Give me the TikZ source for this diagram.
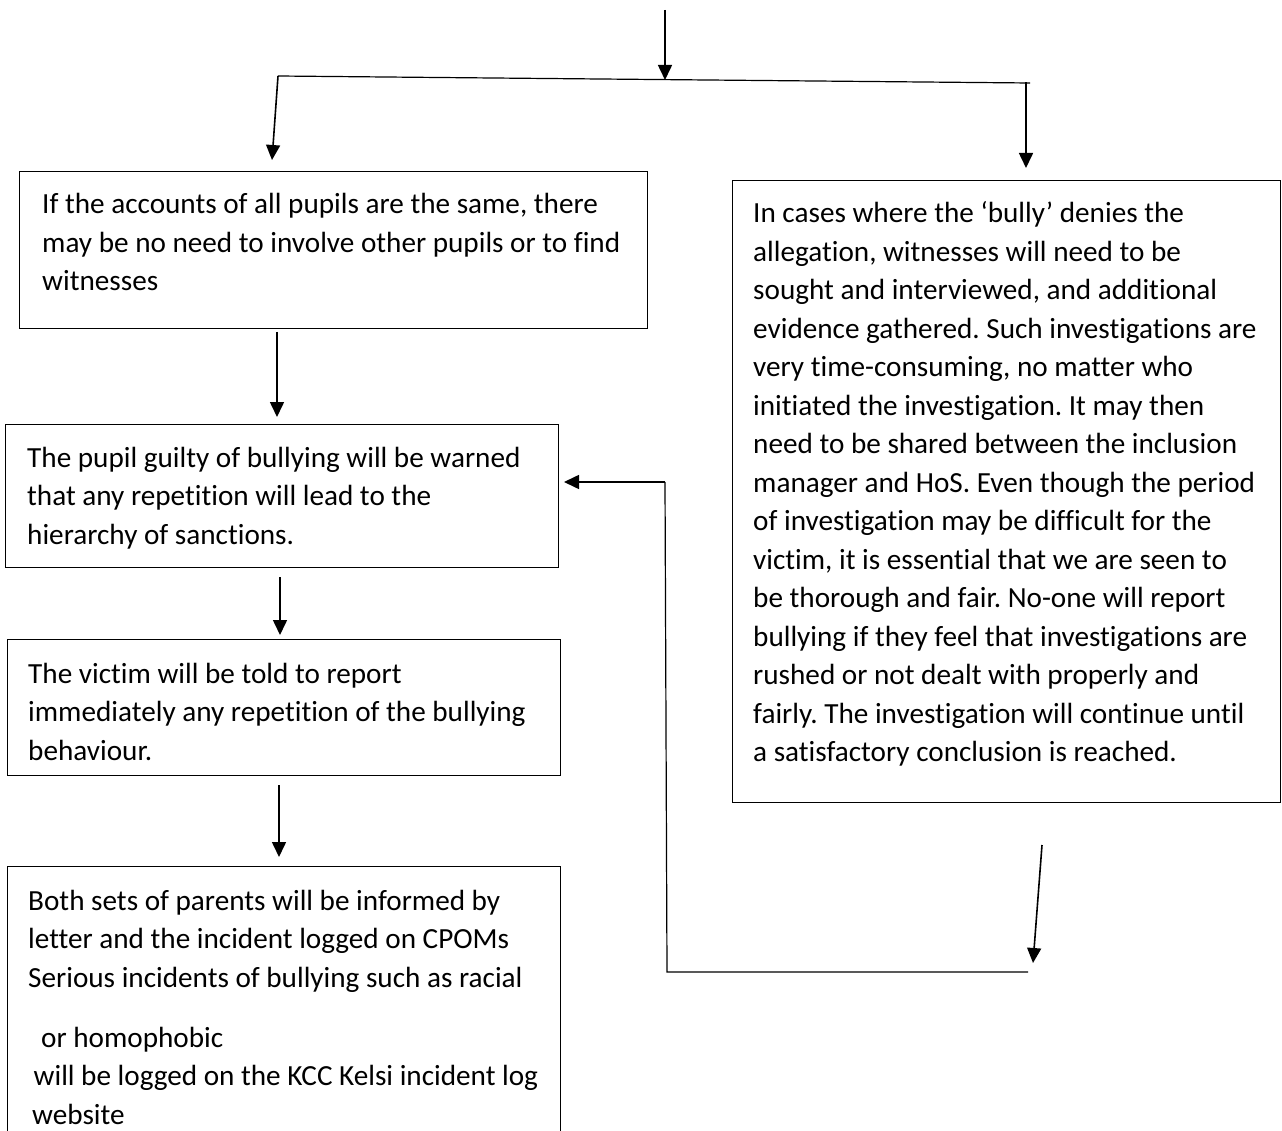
\documentclass[tikz,border=0pt]{standalone}
\usepackage{fontspec}
\setmainfont{Carlito}[Ligatures=NoCommon]
\usetikzlibrary{arrows.meta}
\newcommand\tline[1]{\hbox{#1}}
\frenchspacing
\begin{document}
\begin{tikzpicture}[x=1pt,y=1pt,
  box/.style={draw=black, line width=1.3pt, inner sep=0pt, anchor=north west},
  txt/.style={anchor=base west, inner sep=0pt, font=\fontsize{29.2}{38.5}\selectfont},
  conn/.style={line width=1.6pt, draw=black},
  arr/.style={conn, -{Triangle[length=15pt,width=14pt]}}]
\useasboundingbox (0,0) rectangle (1282,-1131);
\clip (0,0) rectangle (1282,-1131);
\fill[white] (0,0) rectangle (1282,-1131);
% boxes
\node[box, minimum width=628pt, minimum height=157pt] (b1) at (19,-171) {};
\node[box, minimum width=553pt, minimum height=143pt] (b2) at (5,-424) {};
\node[box, minimum width=553pt, minimum height=136pt] (b3) at (7,-639) {};
\node[box, minimum width=553pt, minimum height=300pt] (b4) at (7,-866) {};
\node[box, minimum width=548pt, minimum height=622pt] (b5) at (732,-180) {};
% texts
\node[txt] (t1) at (42,-214) {\vtop{\tline{If the accounts of all pupils are the same, there}\tline{may be no need to involve other pupils or to find}\tline{witnesses}}};
\node[txt] (t2) at (27,-467) {\vtop{\tline{The pupil guilty of bullying will be warned}\tline{that any repetition will lead to the}\tline{hierarchy of sanctions.}}};
\node[txt] (t3) at (28,-683) {\vtop{\tline{The victim will be told to report}\tline{immediately any repetition of the bullying}\tline{behaviour.}}};
\node[txt] (t4) at (28,-910) {\vtop{\tline{Both sets of parents will be informed by}\tline{letter and the incident logged on CPOMs}\tline{Serious incidents of bullying such as racial}\vskip21.5pt\tline{\hskip13pt or homophobic}\tline{\hskip5.5pt will be logged on the KCC Kelsi incident log}\tline{\hskip4pt website}}};
\node[txt] (t5) at (753,-223) {\vtop{\tline{In cases where the ‘bully’ denies the}\tline{allegation, witnesses will need to be}\tline{sought and interviewed, and additional}\tline{evidence gathered. Such investigations are}\tline{very time-consuming, no matter who}\tline{initiated the investigation. It may then}\tline{need to be shared between the inclusion}\tline{manager and HoS. Even though the period}\tline{of investigation may be difficult for the}\tline{victim, it is essential that we are seen to}\tline{be thorough and fair. No-one will report}\tline{bullying if they feel that investigations are}\tline{rushed or not dealt with properly and}\tline{fairly. The investigation will continue until}\tline{a satisfactory conclusion is reached.}}};
% connector points
\coordinate (s0) at (665,-10);
\coordinate (j) at (665,-80);
\coordinate (hl) at (278,-76);
\coordinate (hr) at (1030,-83);
\coordinate (a1) at (272,-160);
\coordinate (rr) at (1026,-82.5);
\coordinate (a5) at (1026,-168);
\coordinate (o1) at (277,-332);
\coordinate (i2) at (277,-417);
\coordinate (o2) at (280,-577);
\coordinate (i3) at (280,-635);
\coordinate (o3) at (279,-785);
\coordinate (i4) at (279,-857);
\coordinate (o5) at (1042,-845);
\coordinate (e5) at (1033,-963);
\coordinate (br) at (1028,-972);
\coordinate (bl) at (667,-972);
\coordinate (tl) at (665,-482);
\coordinate (i2r) at (564,-482);
% connectors
\draw[arr] (s0) -- (j);
\draw[conn, line width=1.2pt] (hl) -- (hr);
\draw[arr] (hl) -- (a1);
\draw[arr] (rr) -- (a5);
\draw[arr] (o1) -- (i2);
\draw[arr] (o2) -- (i3);
\draw[arr] (o3) -- (i4);
\draw[arr] (o5) -- (e5);
\draw[conn, line width=1.2pt] (br) -- (bl) -- (tl);
\draw[arr] (tl) -- (i2r);
\end{tikzpicture}
\end{document}
